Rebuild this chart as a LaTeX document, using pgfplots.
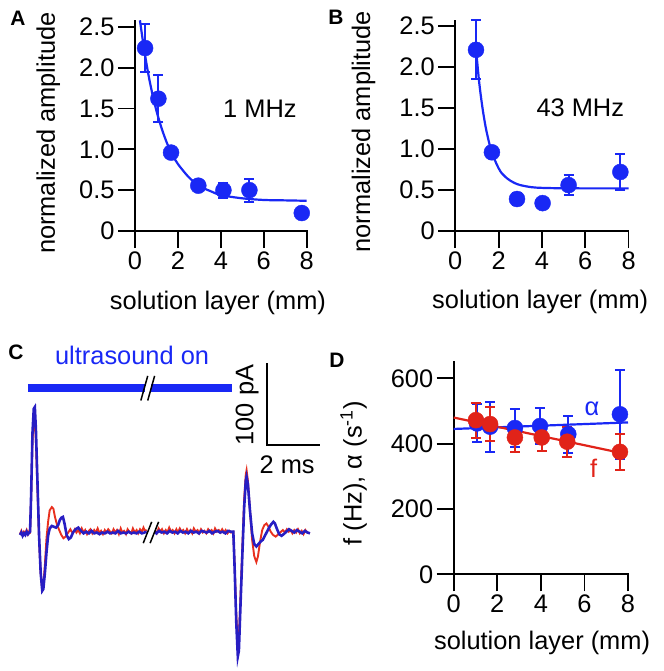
\documentclass[border=0pt]{standalone}
\usepackage{fontspec}
\setmainfont{Liberation Sans}
\usepackage{pgfplots}
\pgfplotsset{compat=1.18}
\definecolor{myblue}{RGB}{25,40,245}
\definecolor{myred}{RGB}{225,35,25}
\definecolor{trblue}{RGB}{40,30,195}
\definecolor{trred}{RGB}{232,48,30}
\pgfplotsset{
  panel/.style={
    scale only axis,
    axis line style={draw=none},
    xtick pos=bottom, ytick pos=left,
    tick style={draw=black, line width=1.8bp},
    tick align=outside,
    major tick length=17bp,
    font=\fontsize{25.5}{28}\selectfont,
    tick label style={font=\fontsize{25.5}{28}\selectfont},
    /pgf/number format/assume math mode=true,
    xmin=0,xmax=8, xtick={0,2,4,6,8},
    clip=false,
  },
  dots/.style={only marks, mark=*, mark size=8bp, #1, mark options={fill=#1, draw=#1},
    error bars/.cd, y dir=both, y explicit,
    error bar style={line width=2bp, #1},
    error mark options={rotate=90, mark size=5bp, line width=2bp, #1}},
}
\newcommand{\Lframe}{\draw[line width=1.8bp,black,line cap=rect] (rel axis cs:0,1) -- (rel axis cs:0,0) -- (rel axis cs:1,0);}
\begin{document}
\begin{tikzpicture}
\useasboundingbox (0,0) rectangle (664bp,-671bp);
\node[font=\fontsize{21}{22}\selectfont\bfseries] at (18bp,-18bp) {A};
\node[font=\fontsize{21}{22}\selectfont\bfseries] at (336bp,-17bp) {B};
\node[font=\fontsize{21}{22}\selectfont\bfseries] at (16bp,-352bp) {C};
\node[font=\fontsize{21}{22}\selectfont\bfseries] at (337bp,-360bp) {D};
% ---------------- Panel A
\begin{axis}[panel, at={(135bp,-231bp)}, anchor=south west, width=171.7bp, height=210.3bp,
  ymin=0, ymax=2.575, ytick={0,0.5,1,1.5,2,2.5}, yticklabels={0,0.5,1.0,1.5,2.0,2.5},
  xlabel={solution layer (mm)}, ylabel={normalized amplitude},
  xlabel style={at={(axis description cs:0.483,-0.344)},anchor=center},
  ylabel style={at={(axis description cs:-0.505,0.465)},anchor=center}]
\Lframe
\addplot[myblue, line width=2.2bp, smooth] coordinates {
(0.23,2.58) (0.4,2.27) (0.6,1.95) (0.8,1.69) (1.0,1.47) (1.25,1.25) (1.5,1.07)
(1.75,0.93) (2.0,0.82) (2.5,0.66) (3.0,0.55) (3.5,0.49) (4.0,0.44) (5.0,0.40)
(6.0,0.38) (7.0,0.375) (8.0,0.37)};
\addplot[dots=myblue] coordinates {
(0.47,2.24) +- (0,0.29)
(1.09,1.62) +- (0,0.29)
(1.68,0.96) +- (0,0.04)
(2.95,0.555) +- (0,0.04)
(4.12,0.50) +- (0,0.09)
(5.33,0.50) +- (0,0.14)
(7.77,0.22) +- (0,0.03)};
\node at (axis cs:5.82,1.50) {1 MHz};
\end{axis}
% ---------------- Panel B
\begin{axis}[panel, at={(455.3bp,-231bp)}, anchor=south west, width=173.3bp, height=210.3bp,
  ymin=0, ymax=2.565, ytick={0,0.5,1,1.5,2,2.5}, yticklabels={0,0.5,1.0,1.5,2.0,2.5},
  xlabel={solution layer (mm)}, ylabel={normalized amplitude},
  xlabel style={at={(axis description cs:0.490,-0.336)},anchor=center},
  ylabel style={at={(axis description cs:-0.529,0.472)},anchor=center}]
\Lframe
\addplot[myblue, line width=2.2bp, smooth] coordinates {
(0.96,2.21) (1.1,1.82) (1.25,1.51) (1.4,1.27) (1.55,1.09) (1.7,0.95) (1.9,0.82)
(2.1,0.72) (2.4,0.64) (2.7,0.59) (3.0,0.56) (3.5,0.535) (4.0,0.526) (5.0,0.521)
(6.5,0.52) (8.0,0.52)};
\addplot[dots=myblue] coordinates {
(0.955,2.21) +- (0,0.36)
(1.69,0.96) +- (0,0.04)
(2.85,0.39) +- (0,0.07)
(4.03,0.34) +- (0,0.04)
(5.23,0.56) +- (0,0.12)
(7.62,0.72) +- (0,0.22)};
\node at (axis cs:5.77,1.50) {43 MHz};
\end{axis}
% ---------------- Panel D
\begin{axis}[panel, at={(453.7bp,-574.3bp)}, anchor=south west, width=174.3bp, height=212.3bp,
  ymin=0, ymax=650, ytick={0,200,400,600},
  xlabel={solution layer (mm)}, ylabel={f (Hz), α (s\textsuperscript{-1})},
  xlabel style={at={(axis description cs:0.507,-0.324)},anchor=center},
  ylabel style={at={(axis description cs:-0.574,0.476)},anchor=center}]
\Lframe
\addplot[myblue, line width=2.2bp] coordinates {(0,445) (8.0,465)};
\addplot[dots=myblue] coordinates {
(1.07,462) +- (0,58)
(1.67,452) +- (0,77)
(2.81,448) +- (0,57)
(3.96,454) +- (0,56)
(5.26,429) +- (0,57)
(7.63,490) +- (0,137)};
\addplot[myred, line width=2.2bp] coordinates {(0,480) (7.65,372)};
\addplot[dots=myred] coordinates {
(1.02,472) +- (0,54)
(1.67,460) +- (0,53)
(2.81,419) +- (0,45)
(4.04,419) +- (0,40)
(5.21,406) +- (0,46)
(7.63,375) +- (0,56)};
\node[text=myblue] at (axis cs:6.35,508) {α};
\node[text=myred] at (axis cs:6.42,324) {f};
\end{axis}
% ---------------- Panel C
\begin{axis}[hide axis, scale only axis, clip=false, at={(20bp,-671.1bp)}, anchor=south west,
  width=291.5bp, height=344.4bp, xmin=0, xmax=11, ymin=-170, ymax=250,
  font=\fontsize{25.5}{28}\selectfont]
% ultrasound bar
\addplot[myblue, line width=8bp] coordinates {(0.30,175) (4.70,175)};
\addplot[myblue, line width=8bp] coordinates {(4.96,175) (8.0,175)};
\addplot[black, line width=1.5bp] coordinates {(4.56,160) (4.82,190)};
\addplot[black, line width=1.5bp] coordinates {(4.82,160) (5.08,190)};
\node[text=myblue] at (axis cs:4.23,215.5) {ultrasound on};
% scale bar
\addplot[black, line width=2bp] coordinates {(9.32,205.7) (9.32,105.7) (11.32,105.7)};
\node[rotate=90] at (axis cs:8.57,154.5) {100 pA};
\node at (axis cs:10.08,81.3) {2 ms};
% red trace
\addplot[trred, line width=1.9bp] coordinates {
(0.00,-3) (0.05,1) (0.10,-4) (0.15,0) (0.20,-2) (0.25,2) (0.30,-3) (0.35,1) (0.38,0)
(0.42,40) (0.47,110) (0.52,138) (0.56,136) (0.60,110) (0.66,50) (0.72,-10) (0.78,-50)
(0.84,-70) (0.88,-66) (0.94,-40) (1.00,-8) (1.06,12) (1.12,26) (1.20,30) (1.26,28)
(1.32,18) (1.40,8) (1.48,2) (1.56,-4) (1.64,-8) (1.72,-6) (1.80,-2) (1.90,3) (1.95,0) (2.00,-1)
(2.07,3) (2.13,-1) (2.20,2) (2.26,-2) (2.33,4) (2.40,-1) (2.46,2) (2.53,-3) (2.60,1)
(2.66,3) (2.73,-2) (2.80,2) (2.86,-1) (2.93,4) (3.00,-2) (3.06,1) (3.13,-3) (3.20,2)
(3.26,-1) (3.33,3) (3.40,0) (3.46,-2) (3.53,3) (3.60,-1) (3.66,2) (3.73,-3) (3.80,4)
(3.86,-1) (3.93,1) (4.00,-3) (4.06,3) (4.13,0) (4.20,-2) (4.26,4) (4.33,-1) (4.40,2)
(4.46,-2) (4.53,3) (4.60,0) (4.66,5) (4.72,1) (4.78,2)};
\addplot[trred, line width=1.9bp] coordinates {
(5.10,1) (5.16,-2) (5.23,4) (5.30,0) (5.36,3) (5.43,-2) (5.50,2) (5.56,-1) (5.63,5)
(5.70,0) (5.76,2) (5.83,-2) (5.90,3) (5.96,-1) (6.03,4) (6.10,0) (6.16,2) (6.23,-2)
(6.30,3) (6.36,-1) (6.43,2) (6.50,-2) (6.56,4) (6.63,0) (6.70,2) (6.76,-2) (6.83,3)
(6.90,-1) (6.96,1) (7.03,-2) (7.10,3) (7.16,0) (7.23,2) (7.30,-2) (7.36,4) (7.43,0)
(7.50,2) (7.56,-1) (7.63,3) (7.70,-1) (7.76,2) (7.83,-2) (7.90,1) (7.96,-1) (8.05,0)
(8.10,-40) (8.16,-100) (8.22,-138) (8.26,-130) (8.32,-80) (8.40,-10) (8.46,40)
(8.52,70) (8.55,75) (8.60,62) (8.68,25) (8.76,-10) (8.84,-30) (8.92,-37) (8.98,-30)
(9.06,-12) (9.14,2) (9.22,8) (9.30,10) (9.38,6) (9.46,0) (9.55,-4) (9.65,-6) (9.75,-3)
(9.85,0) (9.92,2) (10.00,-1) (10.07,3) (10.14,0) (10.21,2) (10.28,-2) (10.35,2)
(10.42,-1) (10.49,3) (10.56,-2) (10.63,1) (10.70,-3) (10.77,2) (10.84,-1) (10.94,-2)};
% blue trace
\addplot[trblue, line width=2.6bp] coordinates {
(0.00,-4) (0.05,-1) (0.10,-5) (0.15,-2) (0.20,-4) (0.25,0) (0.30,-3) (0.35,-1) (0.38,0)
(0.42,45) (0.47,120) (0.52,150) (0.56,152) (0.60,125) (0.66,60) (0.72,-5) (0.78,-50)
(0.84,-72) (0.88,-70) (0.94,-50) (1.00,-25) (1.06,-5) (1.12,4) (1.20,7) (1.28,6)
(1.36,5) (1.44,8) (1.50,14) (1.56,17) (1.62,18) (1.68,10) (1.76,-4) (1.84,-9)
(1.92,-7) (2.00,-1) (2.10,3) (2.20,5) (2.30,1) (2.40,-2) (2.50,0) (2.60,-2) (2.70,1)
(2.80,-2) (2.90,-1) (3.00,-3) (3.10,-1) (3.20,-2) (3.30,0) (3.40,-2) (3.50,-1)
(3.60,-2) (3.70,1) (3.80,-2) (3.90,-1) (4.00,-2) (4.10,0) (4.20,-2) (4.30,-1)
(4.40,-2) (4.50,0) (4.60,-2) (4.70,-1) (4.78,0)};
\addplot[trblue, line width=2.6bp] coordinates {
(5.10,0) (5.15,-2) (5.25,1) (5.35,-1) (5.45,0) (5.55,-2) (5.65,1) (5.75,-1) (5.85,0)
(5.95,-2) (6.05,1) (6.15,-1) (6.25,0) (6.35,-2) (6.45,1) (6.55,-1) (6.65,0) (6.75,-2)
(6.85,1) (6.95,0) (7.05,-1) (7.15,1) (7.25,-2) (7.35,0) (7.45,1) (7.55,-1) (7.65,0)
(7.75,-2) (7.85,1) (7.95,0) (8.05,0)
(8.10,-45) (8.16,-110) (8.22,-152) (8.26,-145) (8.32,-90) (8.40,-20) (8.46,30)
(8.52,62) (8.55,67) (8.60,58) (8.68,25) (8.76,-2) (8.84,-15) (8.92,-18) (9.00,-15)
(9.08,-12) (9.16,-10) (9.24,-5) (9.32,0) (9.40,5) (9.48,9) (9.56,12) (9.62,10)
(9.70,3) (9.78,-3) (9.87,-5) (9.95,-3) (10.05,0) (10.15,3) (10.25,1) (10.35,-1)
(10.45,2) (10.55,0) (10.65,-2) (10.75,1) (10.85,-1) (10.94,-2)};
% break marks on trace
\addplot[black, line width=1.5bp] coordinates {(4.65,-14) (4.97,12)};
\addplot[black, line width=1.5bp] coordinates {(4.91,-14) (5.23,12)};
\end{axis}
\end{tikzpicture}
\end{document}
